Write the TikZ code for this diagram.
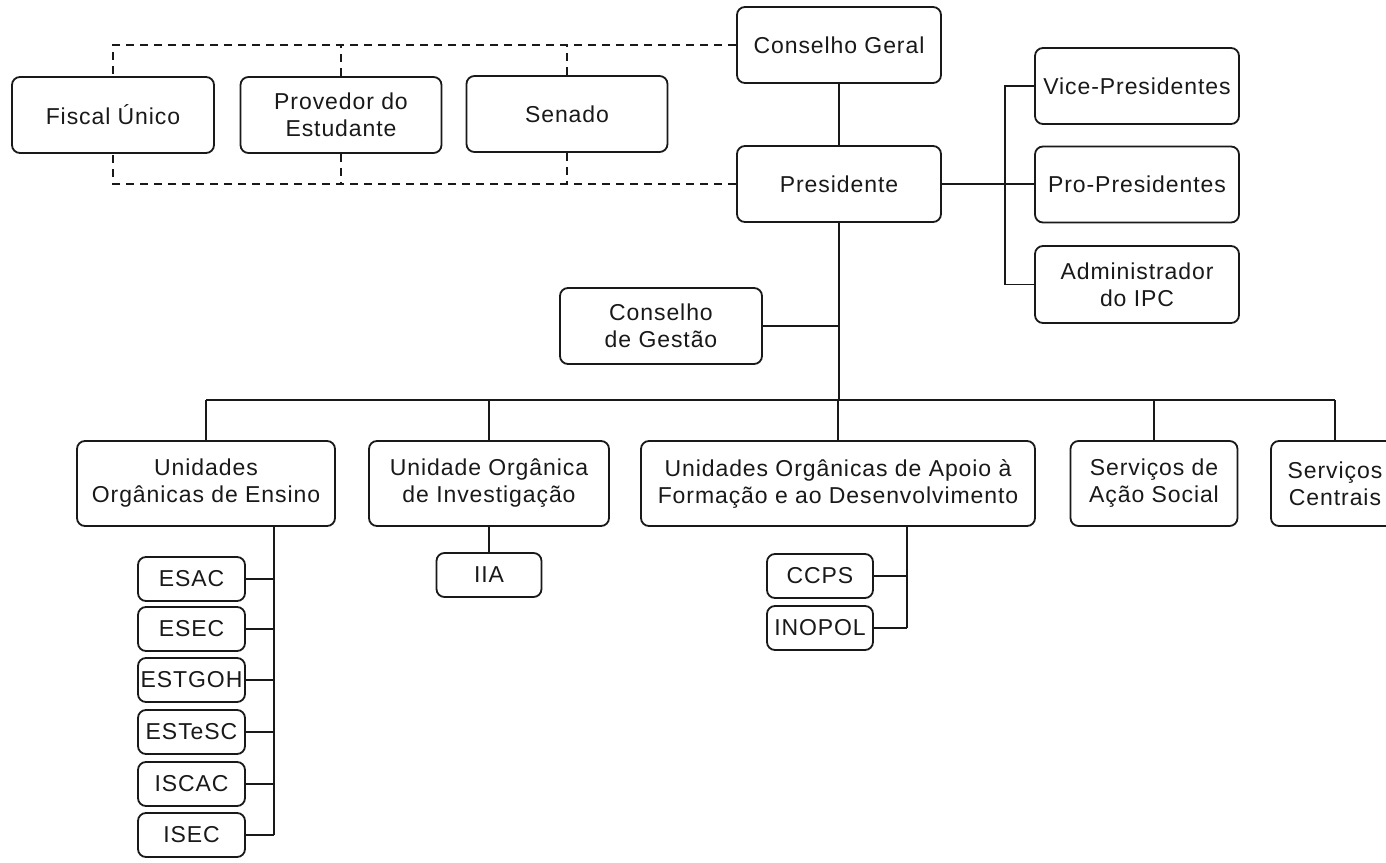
\documentclass[tikz,border=0pt]{standalone}
\usepackage{fontspec}
\setmainfont{Liberation Sans}[LetterSpace=4]
\begin{document}
\begin{tikzpicture}[x=1pt,y=-1pt,
  box/.style={draw=black!90, line width=1.8pt, rounded corners=8pt, align=center, inner sep=2pt,
    font=\fontsize{23}{27}\selectfont, text=black!90},
  sbox/.style={box, minimum width=107pt, minimum height=44pt},
  conn/.style={draw=black!90, line width=1.8pt},
  dconn/.style={conn, dash pattern=on 8pt off 6pt}]
\useasboundingbox (0,0) rectangle (1386,862);
\fill[white] (0,0) rectangle (1386,862);
\clip (0,0) rectangle (1386,862);
% top
\node[box, minimum width=204pt, minimum height=76pt] (cg) at (839,45) {Conselho Geral};
\node[box, minimum width=204pt, minimum height=76pt] (pres) at (839,184) {Presidente};
\node[box, minimum width=204pt, minimum height=76pt] (vice) at (1137,86) {Vice-Presidentes};
\node[box, minimum width=204pt, minimum height=76pt] (pro) at (1137,184.5) {Pro-Presidentes};
\node[box, minimum width=204pt, minimum height=77pt] (adm) at (1137,284.5) {Administrador\\do IPC};
\node[box, minimum width=202pt, minimum height=76pt] (fiscal) at (113,115) {Fiscal Único};
\node[box, minimum width=201pt, minimum height=76pt] (prov) at (341,115) {Provedor do\\Estudante};
\node[box, minimum width=201pt, minimum height=76pt] (senado) at (567,114) {Senado};
\node[box, minimum width=202pt, minimum height=76pt] (gestao) at (661,326) {Conselho\\de Gestão};
% second level
\node[box, minimum width=258pt, minimum height=85pt] (ue) at (206,483.5) {Unidades\\Orgânicas de Ensino};
\node[box, minimum width=240pt, minimum height=85pt] (ui) at (489,483.5) {Unidade Orgânica\\de Investigação};
\node[box, minimum width=394pt, minimum height=85pt] (ua) at (838,483.5) {Unidades Orgânicas de Apoio à\\Formação e ao Desenvolvimento};
\node[box, minimum width=167pt, minimum height=85pt] (sas) at (1154,483.5) {Serviços de\\Ação Social};
\node[box, minimum width=128pt, minimum height=85pt] (sc) at (1335,483.5) {Serviços\\Centrais};
% third level
\node[sbox] (esac) at (191.5,579) {ESAC};
\node[sbox] (esec) at (191.5,629) {ESEC};
\node[sbox] (estgoh) at (191.5,680) {ESTGOH};
\node[sbox] (estesc) at (191.5,732) {ESTeSC};
\node[sbox] (iscac) at (191.5,784) {ISCAC};
\node[sbox] (isec) at (191.5,835) {ISEC};
\node[sbox, minimum width=105pt] (iia) at (489,575) {IIA};
\node[sbox, minimum width=106pt] (ccps) at (820,576) {CCPS};
\node[sbox, minimum width=106pt] (inopol) at (820,628) {INOPOL};
% helper coordinates
\coordinate (rb) at (1005,0);
\coordinate (bus) at (0,400);
\coordinate (ev) at (274,0);
\coordinate (av) at (907,0);
% dashed links
\draw[dconn] (cg.west) -| (fiscal.north);
\draw[dconn] (prov.north) -- (prov.north |- cg.west);
\draw[dconn] (senado.north) -- (senado.north |- cg.west);
\draw[dconn] (pres.west) -| (fiscal.south);
\draw[dconn] (prov.south) -- (prov.south |- pres.west);
\draw[dconn] (senado.south) -- (senado.south |- pres.west);
% solid links
\draw[conn] (cg.south) -- (pres.north);
\draw[conn] (pres.east) -- (pres.east -| pro.west);
\draw[conn] (vice.west) -- (vice.west -| rb) -- (adm.west -| rb) -- (adm.west);
\draw[conn] (pres.south) -- (pres.south |- bus);
\draw[conn] (gestao.east) -- (gestao.east -| pres.south);
\draw[conn] (ue.north |- bus) -- (sc.north |- bus);
\foreach \n in {ue,ui,ua,sas,sc} \draw[conn] (\n.north) -- (\n.north |- bus);
\draw[conn] (ue.south -| ev) -- (isec.east -| ev);
\foreach \n in {esac,esec,estgoh,estesc,iscac,isec} \draw[conn] (\n.east) -- (\n.east -| ev);
\draw[conn] (ui.south) -- (iia.north);
\draw[conn] (ua.south -| av) -- (inopol.east -| av);
\foreach \n in {ccps,inopol} \draw[conn] (\n.east) -- (\n.east -| av);
\end{tikzpicture}
\end{document}
